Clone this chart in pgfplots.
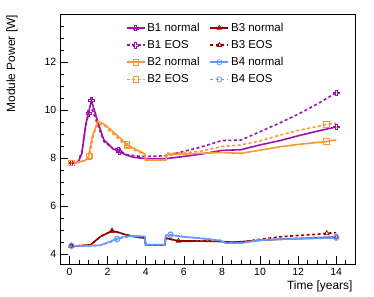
\documentclass[border=0pt]{standalone}
\usepackage{fontspec}
\setmainfont{Liberation Sans}
\usepackage{pgfplots}
\pgfplotsset{compat=1.18}
\definecolor{cB1}{RGB}{155,20,165}
\definecolor{cB2}{RGB}{255,150,50}
\definecolor{cB3}{RGB}{153,0,0}
\definecolor{cB4}{RGB}{102,153,255}
\pgfdeclareplotmark{ocross}{%
  \pgfmathsetlengthmacro{\ma}{\pgfplotmarksize}%
  \pgfmathsetlengthmacro{\mt}{0.33*\pgfplotmarksize}%
  \pgfpathmoveto{\pgfpoint{\mt}{\ma}}%
  \pgfpathlineto{\pgfpoint{\mt}{\mt}}%
  \pgfpathlineto{\pgfpoint{\ma}{\mt}}%
  \pgfpathlineto{\pgfpoint{\ma}{-\mt}}%
  \pgfpathlineto{\pgfpoint{\mt}{-\mt}}%
  \pgfpathlineto{\pgfpoint{\mt}{-\ma}}%
  \pgfpathlineto{\pgfpoint{-\mt}{-\ma}}%
  \pgfpathlineto{\pgfpoint{-\mt}{-\mt}}%
  \pgfpathlineto{\pgfpoint{-\ma}{-\mt}}%
  \pgfpathlineto{\pgfpoint{-\ma}{\mt}}%
  \pgfpathlineto{\pgfpoint{-\mt}{\mt}}%
  \pgfpathlineto{\pgfpoint{-\mt}{\ma}}%
  \pgfpathclose
  \pgfusepathqstroke}
\begin{document}
\begin{tikzpicture}
\begin{axis}[
  scale only axis, width=295.3bp, height=249.6bp,
  xmin=-0.5, xmax=15, ymin=3.58, ymax=13.97,
  xtick={0,2,...,14}, ytick={4,6,...,12},
  minor xtick={0,0.5,...,14.5}, minor ytick={4,4.5,...,13.5},
  xtick pos=bottom, ytick pos=left, tick align=inside,
  major tick length=8bp, minor tick length=4bp,
  every tick/.style={black, line width=0.6bp},
  axis line style={black, line width=0.8bp},
  /pgf/number format/assume math mode=true,
  tick label style={font=\fontsize{10.5}{12}\selectfont},
  xticklabel style={inner sep=0pt, yshift=-3.5bp},
  yticklabel style={inner sep=0pt, xshift=-3.5bp},
  xlabel={Time [years]}, ylabel={Module Power [W]},
  label style={font=\fontsize{12}{14}\selectfont},
  xlabel style={at={(axis description cs:0.991,-0.064)}, anchor=north east, inner sep=0pt},
  ylabel style={at={(axis description cs:-0.1625,1.0)}, anchor=east, inner sep=0pt},
  legend columns=2,
  legend cell align=left,
  legend style={draw=none, fill=none, at={(axis description cs:0.222,0.975)}, anchor=north west,
    inner sep=0pt, font=\fontsize{11.5}{13}\selectfont, row sep=3.5bp,
    /tikz/every even column/.append style={column sep=8bp}},
  legend image code/.code={\draw[#1, mark indices={2}] plot coordinates {(0bp,0bp)(9bp,0bp)(18bp,0bp)};},
  every axis plot/.append style={line width=1.6bp, mark size=2.7bp, mark options={solid, line width=0.7bp}},
  eos/.style={dash pattern=on 3bp off 2.5bp},
]
\coordinate (O) at (rel axis cs:0,0);
% B1 normal
\addplot[cB1, mark=ocross, mark indices={1,5,9,22}] coordinates {
(0.1,7.8)(0.45,7.82)(0.65,8.2)(0.85,9.4)(1.15,10.4)(1.45,9.6)(1.8,8.76)(2.3,8.38)(2.6,8.27)(3.0,8.12)(3.4,8.03)(4.0,7.98)(5.1,7.98)(6.0,8.07)(6.85,8.16)(8.0,8.32)(9.0,8.35)(10.0,8.55)(11.0,8.72)(12.0,8.93)(13.0,9.12)(14.0,9.3)};
\addlegendentry{B1 normal}
% B3 normal
\addplot[cB3, mark=triangle, mark indices={1,5,13,22}] coordinates {
(0.1,4.35)(0.5,4.35)(1.1,4.39)(1.62,4.73)(2.23,4.97)(2.6,4.9)(3.0,4.8)(3.5,4.72)(3.95,4.67)(4.0,4.39)(5.0,4.39)(5.05,4.67)(5.72,4.55)(6.5,4.55)(7.9,4.53)(8.5,4.5)(9.0,4.52)(10.0,4.58)(11.0,4.62)(12.0,4.65)(13.0,4.68)(14.0,4.72)};
\addlegendentry{B3 normal}
% B1 EOS
\addplot[cB1, eos, mark=ocross, mark indices={1,5,10,23}] coordinates {
(0.1,7.8)(0.45,7.85)(0.65,8.3)(0.85,9.3)(1.0,9.87)(1.2,10.0)(1.45,9.45)(1.8,8.7)(2.3,8.38)(2.55,8.35)(3.0,8.15)(3.5,8.09)(4.0,8.07)(5.1,8.1)(6.0,8.28)(6.85,8.45)(8.0,8.73)(9.0,8.75)(10.0,9.1)(11.0,9.45)(12.0,9.83)(13.0,10.25)(14.0,10.72)};
\addlegendentry{B1 EOS}
% B3 EOS
\addplot[cB3, eos, mark=triangle, mark indices={1,5,22}] coordinates {
(0.1,4.35)(0.5,4.35)(1.1,4.39)(1.62,4.73)(2.23,4.97)(2.6,4.9)(3.0,4.8)(3.5,4.72)(3.95,4.67)(4.0,4.39)(5.0,4.39)(5.05,4.67)(5.72,4.55)(6.5,4.55)(7.9,4.55)(8.2,4.48)(9.0,4.5)(10.0,4.62)(11.0,4.72)(12.0,4.78)(13.0,4.83)(13.5,4.87)(14.0,4.9)};
\addlegendentry{B3 EOS}
% B2 normal
\addplot[cB2, mark=square, mark indices={1,4,10,23}] coordinates {
(0.1,7.8)(0.5,7.83)(0.85,7.92)(1.0,8.07)(1.19,8.9)(1.48,9.53)(1.8,9.42)(2.14,9.2)(2.6,8.87)(3.0,8.57)(3.5,8.35)(3.95,8.18)(4.0,7.92)(5.05,7.92)(5.1,8.14)(6.0,8.17)(6.85,8.2)(8.0,8.23)(9.0,8.2)(10.0,8.33)(11.1,8.48)(12.0,8.57)(13.48,8.69)(14.0,8.76)};
\addlegendentry{B2 normal}
% B4 normal
\addplot[cB4, mark=o, mark indices={1,6,13,23}] coordinates {
(0.1,4.35)(0.5,4.35)(1.0,4.35)(1.6,4.37)(2.14,4.53)(2.5,4.65)(2.84,4.73)(3.3,4.76)(3.95,4.74)(4.0,4.4)(5.0,4.4)(5.05,4.78)(5.3,4.8)(6.0,4.72)(7.0,4.65)(7.9,4.57)(8.2,4.46)(9.0,4.46)(10.0,4.58)(11.0,4.62)(12.0,4.64)(13.0,4.66)(14.0,4.68)};
\addlegendentry{B4 normal}
% B2 EOS
\addplot[cB2, eos, mark=square, mark indices={1,4,10,23}] coordinates {
(0.1,7.8)(0.5,7.83)(0.85,7.92)(1.05,8.1)(1.22,8.85)(1.45,9.42)(1.8,9.38)(2.14,9.12)(2.6,8.77)(3.0,8.5)(3.5,8.3)(3.95,8.15)(4.0,7.93)(5.05,7.93)(5.1,8.2)(6.0,8.22)(6.85,8.28)(8.0,8.48)(9.0,8.55)(10.0,8.72)(11.0,8.95)(12.0,9.15)(13.48,9.4)(14.0,9.45)};
\addlegendentry{B2 EOS}
% B4 EOS
\addplot[cB4, eos, mark=o, mark indices={1,6,13,23}] coordinates {
(0.1,4.35)(0.5,4.35)(1.0,4.35)(1.6,4.37)(2.14,4.5)(2.5,4.62)(2.84,4.7)(3.3,4.75)(3.95,4.74)(4.0,4.4)(5.0,4.4)(5.05,4.78)(5.3,4.82)(6.0,4.73)(7.0,4.66)(7.9,4.58)(8.2,4.47)(9.0,4.47)(10.0,4.6)(11.0,4.64)(12.0,4.67)(13.0,4.7)(14.0,4.72)};
\addlegendentry{B4 EOS}
\end{axis}
\path (O) ++(-60bp,-32.7bp) coordinate (BBA) ++(374bp,297bp) coordinate (BBB);
\pgfresetboundingbox
\useasboundingbox (BBA) rectangle (BBB);
\end{tikzpicture}
\end{document}
